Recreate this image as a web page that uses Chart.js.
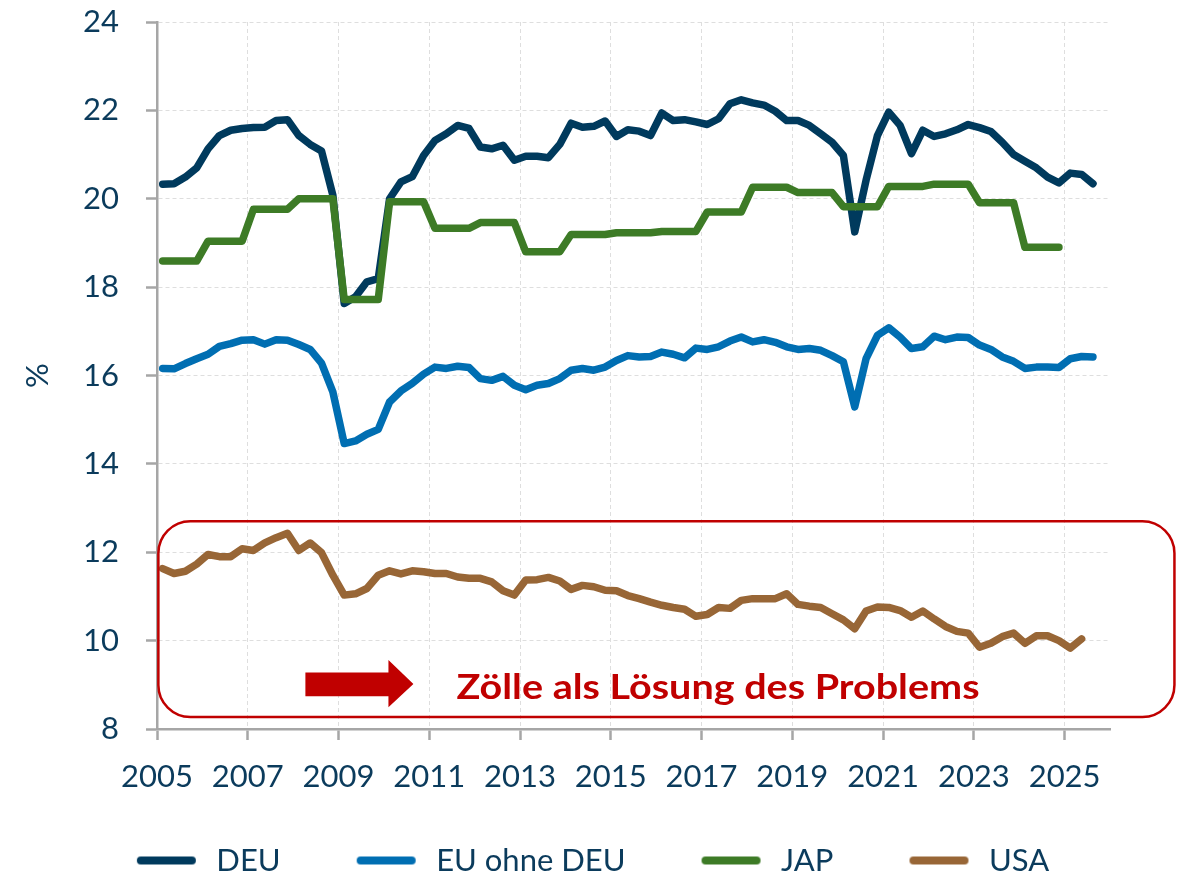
<!DOCTYPE html>
<html>
<head>
<meta charset="utf-8">
<script src="https://cdn.jsdelivr.net/npm/chart.js@4.4.1/dist/chart.umd.min.js"></script>
<style>
  html, body { margin: 0; padding: 0; background: #fff; overflow: hidden; }
  canvas { display: block; }
</style>
</head>
<body>
<canvas id="chart" width="1193" height="878"></canvas>
<script>
// quarterly series, first value = 2005 Q1
const startYear = 2005;

const deu = [20.33, 20.34, 20.49, 20.70, 21.13, 21.43, 21.55, 21.59, 21.61, 21.62,
             21.77, 21.79, 21.43, 21.23, 21.08, 20.08, 17.63, 17.78, 18.12, 18.19,
             20.00, 20.38, 20.50, 20.98, 21.32, 21.47, 21.66, 21.59, 21.17, 21.13,
             21.21, 20.87, 20.96, 20.96, 20.93, 21.23, 21.71, 21.62, 21.64, 21.76,
             21.41, 21.56, 21.53, 21.43, 21.94, 21.77, 21.79, 21.74, 21.68, 21.81,
             22.15, 22.24, 22.17, 22.12, 21.98, 21.77, 21.77, 21.66, 21.47, 21.28,
             20.98, 19.25, 20.42, 21.43, 21.96, 21.66, 21.02, 21.55, 21.41, 21.47,
             21.56, 21.68, 21.61, 21.52, 21.28, 21.00, 20.85, 20.70, 20.49, 20.36,
             20.58, 20.55, 20.34];

const euOhneDeu = [16.16, 16.15, 16.27, 16.38, 16.48, 16.66, 16.72, 16.80, 16.81, 16.71,
                   16.81, 16.80, 16.70, 16.59, 16.28, 15.63, 14.46, 14.52, 14.67, 14.78,
                   15.40, 15.65, 15.82, 16.03, 16.19, 16.16, 16.21, 16.18, 15.93, 15.89,
                   15.98, 15.78, 15.68, 15.78, 15.82, 15.93, 16.12, 16.16, 16.12, 16.19,
                   16.34, 16.45, 16.42, 16.43, 16.53, 16.48, 16.40, 16.62, 16.59, 16.65,
                   16.78, 16.87, 16.76, 16.81, 16.75, 16.65, 16.59, 16.61, 16.57, 16.45,
                   16.31, 15.29, 16.38, 16.91, 17.08, 16.87, 16.61, 16.65, 16.89, 16.81,
                   16.87, 16.86, 16.69, 16.59, 16.42, 16.32, 16.16, 16.19, 16.19, 16.18,
                   16.38, 16.43, 16.42];

// annual figure, shown for each quarter
const jap = [18.59, 18.59, 18.59, 18.59, 19.04, 19.04, 19.04, 19.04, 19.76, 19.76,
             19.76, 19.76, 20.00, 20.00, 20.00, 20.00, 17.72, 17.72, 17.72, 17.72,
             19.93, 19.93, 19.93, 19.93, 19.33, 19.33, 19.33, 19.33, 19.46, 19.46,
             19.46, 19.46, 18.80, 18.80, 18.80, 18.80, 19.19, 19.19, 19.19, 19.19,
             19.23, 19.23, 19.23, 19.23, 19.26, 19.26, 19.26, 19.26, 19.70, 19.70,
             19.70, 19.70, 20.26, 20.26, 20.26, 20.26, 20.14, 20.14, 20.14, 20.14,
             19.82, 19.82, 19.82, 19.82, 20.28, 20.28, 20.28, 20.28, 20.33, 20.33,
             20.33, 20.33, 19.91, 19.91, 19.91, 19.91, 18.90, 18.90, 18.90, 18.90];

const usa = [11.63, 11.52, 11.57, 11.73, 11.95, 11.90, 11.90, 12.08, 12.04, 12.21,
             12.33, 12.43, 12.04, 12.21, 11.99, 11.48, 11.03, 11.06, 11.18, 11.48,
             11.58, 11.51, 11.58, 11.56, 11.52, 11.52, 11.44, 11.41, 11.41, 11.33,
             11.13, 11.03, 11.37, 11.38, 11.43, 11.35, 11.16, 11.25, 11.22, 11.14,
             11.13, 11.02, 10.95, 10.87, 10.80, 10.75, 10.71, 10.55, 10.59, 10.75,
             10.73, 10.91, 10.95, 10.95, 10.95, 11.06, 10.82, 10.78, 10.75, 10.61,
             10.47, 10.27, 10.67, 10.76, 10.75, 10.68, 10.53, 10.67, 10.49, 10.32,
             10.21, 10.17, 9.85, 9.94, 10.09, 10.17, 9.94, 10.11, 10.11, 10.00,
             9.83, 10.04];

const seriesNames = ["DEU", "EU ohne DEU", "JAP", "USA"];
const seriesColors = ["#003A5D", "#006EB2", "#3D7B26", "#986636"];
const yearTicks = [2005, 2007, 2009, 2011, 2013, 2015, 2017, 2019, 2021, 2023, 2025];
const yMin = 8, yMax = 24, yStep = 2;
const yTitle = "%";
const noteText = "Zölle als Lösung des Problems";

const textColor = "#0B3B5C";
const axisGray = "#A6A6A6";
const gridGray = "#DEDEDE";
const noteRed = "#C00000";
const fontFamily = "Lato, 'Open Sans', sans-serif";

// quarter labels, 2005Q1 ...
const quarters = deu.map((_, i) => `${startYear + Math.floor(i / 4)}Q${(i % 4) + 1}`);

// plotted in the middle of the quarter
function quarterPos(label) {
    const year = parseInt(label.slice(0, 4));
    const q = parseInt(label.slice(5));
    return year + (q - 0.5) / 4;
}

function toPoints(values) {
    return values.map((v, i) => ({ x: quarterPos(quarters[i]), y: v }));
}

// legend sample: thick rounded line, transparent room on the left for spacing
function legendSwatch(color) {
    const c = document.createElement("canvas");
    c.width = 140;
    c.height = 12;
    const g = c.getContext("2d");
    g.strokeStyle = color;
    g.lineWidth = 8;
    g.lineCap = "round";
    g.beginPath();
    g.moveTo(80, 6);
    g.lineTo(131, 6);
    g.stroke();
    return c;
}

// frame, arrow and message under the USA line
const notePlugin = {
    id: "note",
    afterDraw(chart) {
        const { ctx } = chart;
        const xs = chart.scales.x;
        const ys = chart.scales.y;
        const px = v => xs.getPixelForValue(v);
        const py = v => ys.getPixelForValue(v);

        ctx.save();

        // rounded frame
        const l = px(2005.03), r = px(2027.42), t = py(12.70), b = py(8.27), rad = 32;
        ctx.strokeStyle = noteRed;
        ctx.lineWidth = 2.5;
        ctx.beginPath();
        ctx.moveTo(l + rad, t);
        ctx.arcTo(r, t, r, b, rad);
        ctx.arcTo(r, b, l, b, rad);
        ctx.arcTo(l, b, l, t, rad);
        ctx.arcTo(l, t, r, t, rad);
        ctx.closePath();
        ctx.stroke();

        // arrow
        const a0 = px(2008.27), a1 = px(2010.10), a2 = px(2010.65);
        ctx.fillStyle = noteRed;
        ctx.beginPath();
        ctx.moveTo(a0, py(9.28));
        ctx.lineTo(a1, py(9.28));
        ctx.lineTo(a1, py(9.56));
        ctx.lineTo(a2, py(9.02));
        ctx.lineTo(a1, py(8.49));
        ctx.lineTo(a1, py(8.74));
        ctx.lineTo(a0, py(8.74));
        ctx.closePath();
        ctx.fill();

        // message
        ctx.font = "bold 35px " + fontFamily;
        ctx.textBaseline = "alphabetic";
        ctx.textAlign = "left";
        const tx = px(2011.6), ty = py(8.69);
        const w = ctx.measureText(noteText).width;
        const sx = 523 / w;
        ctx.translate(tx, ty);
        ctx.scale(sx, 1);
        ctx.fillText(noteText, 0, 0);

        ctx.restore();
    }
};

const seriesValues = [deu, euOhneDeu, jap, usa];

const datasets = seriesValues.map((vals, i) => ({
    label: seriesNames[i],
    data: toPoints(vals),
    borderColor: seriesColors[i],
    backgroundColor: seriesColors[i],
    borderWidth: 7.5,
    borderCapStyle: "round",
    borderJoinStyle: "round",
    pointRadius: 0,
    tension: 0,
    fill: false,
    order: seriesValues.length - i   // later series drawn on top
}));

const ctx = document.getElementById("chart").getContext("2d");

new Chart(ctx, {
    type: "line",
    data: { datasets: datasets },
    plugins: [notePlugin],
    options: {
        responsive: false,
        animation: false,
        devicePixelRatio: 1,
        layout: { padding: { top: 22, right: 83, bottom: -8, left: 0 } },
        plugins: {
            tooltip: { enabled: false },
            legend: {
                position: "bottom",
                labels: {
                    usePointStyle: true,
                    pointStyleWidth: 140,
                    padding: 0,
                    color: textColor,
                    font: { family: fontFamily, size: 31 },
                    generateLabels(chart) {
                        return chart.data.datasets.map((ds, i) => ({
                            text: ds.label,
                            pointStyle: legendSwatch(ds.borderColor),
                            fillStyle: ds.borderColor,
                            strokeStyle: ds.borderColor,
                            lineWidth: 0,
                            fontColor: textColor,
                            hidden: false,
                            datasetIndex: i
                        }));
                    }
                }
            }
        },
        scales: {
            x: {
                type: "linear",
                min: 2005,
                max: 2026,
                afterBuildTicks(scale) {
                    scale.ticks = yearTicks.map(v => ({ value: v }));
                },
                afterFit(scale) {
                    scale.height = 116;
                },
                ticks: {
                    color: textColor,
                    font: { family: fontFamily, size: 31 },
                    padding: 18,
                    maxRotation: 0,
                    autoSkip: false,
                    callback: v => String(v)
                },
                grid: {
                    color: gridGray,
                    lineWidth: 1,
                    tickLength: 11,
                    tickColor: axisGray,
                    tickWidth: 2.5
                },
                border: { color: axisGray, width: 2.5, dash: [4, 3] }
            },
            y: {
                min: yMin,
                max: yMax,
                afterFit(scale) {
                    scale.width = 157;
                    // label padding must not push the plot area down
                    scale.paddingTop = 18;
                    scale.paddingBottom = 18;
                },
                ticks: {
                    stepSize: yStep,
                    color: textColor,
                    font: { family: fontFamily, size: 31 },
                    padding: 27
                },
                grid: {
                    color: gridGray,
                    lineWidth: 1,
                    tickLength: 11,
                    tickColor: axisGray,
                    tickWidth: 2.5
                },
                border: { color: axisGray, width: 2.5, dash: [4, 3] },
                title: {
                    display: true,
                    text: yTitle,
                    color: textColor,
                    font: { family: fontFamily, size: 31 },
                    padding: { top: 19, bottom: 0 }
                }
            }
        }
    }
});
</script>
</body>
</html>
